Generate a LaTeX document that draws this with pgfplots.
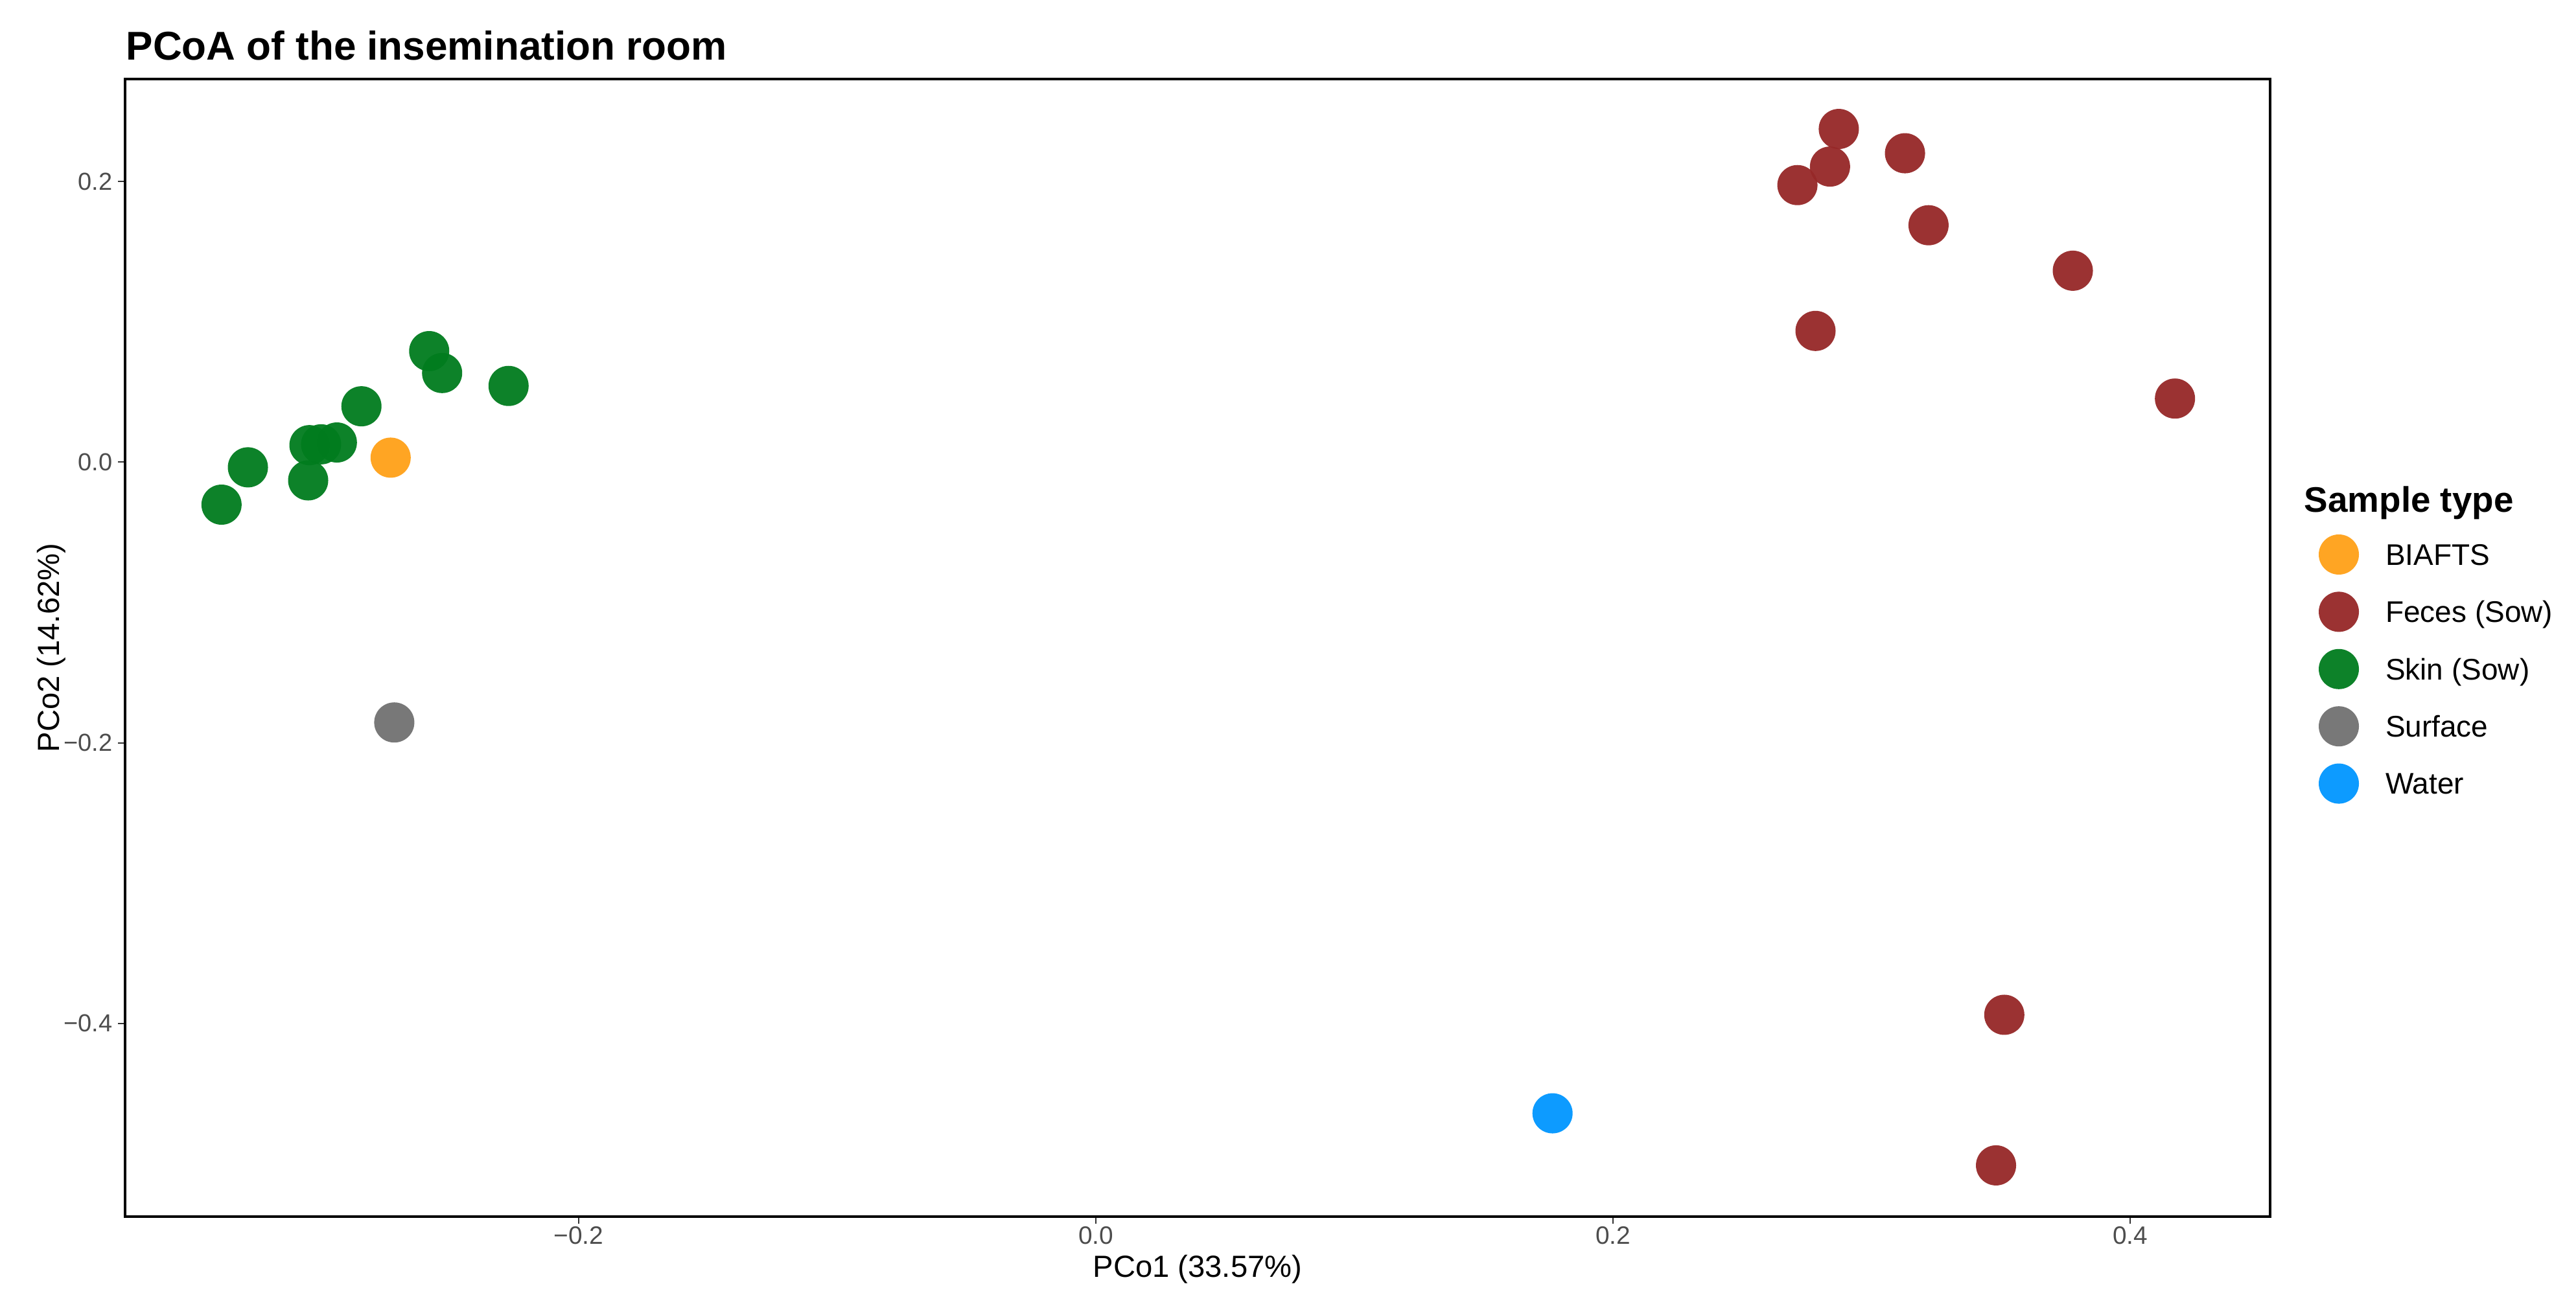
\documentclass[border=0pt]{standalone}
\usepackage{fontspec}
\setmainfont{Liberation Sans}
\usepackage{pgfplots}
\usepackage{pgfplotstable}
\pgfplotsset{compat=1.18}

\definecolor{cBiafts}{RGB}{255,160,23}
\definecolor{cFeces}{RGB}{150,39,39}
\definecolor{cSkin}{RGB}{0,123,29}
\definecolor{cSurface}{RGB}{113,113,113}
\definecolor{cWater}{RGB}{0,150,255}
\definecolor{tickgray}{RGB}{77,77,77}

% PCo1 / PCo2 scores per sample type
\pgfplotstableread{
x y
-0.2727 0.0032
}\biafts
\pgfplotstableread{
x y
0.2873 0.2374
0.2839 0.2106
0.2713 0.1974
0.3129 0.2201
0.3220 0.1688
0.3778 0.1364
0.2783 0.0935
0.4173 0.0453
0.3513 -0.3938
0.3481 -0.5011
}\feces
\pgfplotstableread{
x y
-0.3381 -0.0303
-0.3279 -0.0037
-0.3046 -0.0130
-0.3041 0.0121
-0.2996 0.0127
-0.2935 0.0140
-0.2840 0.0398
-0.2578 0.0791
-0.2528 0.0635
-0.2271 0.0543
}\skin
\pgfplotstableread{
x y
-0.2713 -0.1855
}\surface
\pgfplotstableread{
x y
0.1766 -0.4640
}\water

\pgfplotsset{
  pt/.style={only marks, mark=*, mark size=7.75pt,
    mark options={fill=#1, draw=#1, fill opacity=0.95, draw opacity=0}},
}

\begin{document}
\begin{tikzpicture}
\path[use as bounding box] (0pt,0pt) rectangle (993.75pt,503.75pt);

\begin{axis}[
  at={(48.25pt,34.25pt)}, anchor=south west,
  scale only axis, width=827.5pt, height=439pt,
  xmin=-0.3754, xmax=0.4541, ymin=-0.5376, ymax=0.273,
  axis line style={line width=1.1pt, black},
  tick align=outside, tick pos=left,
  major tick length=2.75pt,
  major tick style={line width=0.45pt, black!80},
  xtick={-0.2,0,0.2,0.4},
  xticklabels={−0.2,0.0,0.2,0.4},
  ytick={-0.4,-0.2,0,0.2},
  yticklabels={−0.4,−0.2,0.0,0.2},
  xticklabel style={font=\fontsize{9.7}{11}\selectfont, text=tickgray, inner sep=0pt, yshift=-1pt},
  yticklabel style={font=\fontsize{9.5}{11}\selectfont, text=tickgray, inner sep=0pt, xshift=-1.9pt},
  every axis x label/.style={at={(axis description cs:0.5,-0.05353)}, anchor=base},
  every axis y label/.style={at={(axis description cs:-0.03051,0.5)}, rotate=90, anchor=base},
  label style={font=\fontsize{11.8}{14}\selectfont},
  xlabel={PCo1 (33.57\%)},
  ylabel={PCo2 (14.62\%)},
  legend style={at={(axis description cs:1.02266,0.59966)}, anchor=north west,
    draw=none, fill=none, inner sep=0pt, outer sep=0pt,
    row sep=6.6pt, column sep=10.25pt,
    font=\fontsize{11.5}{13}\selectfont,
    nodes={inner sep=0pt, text height=8.2pt, text depth=0pt}},
  legend cell align=left,
  legend image code/.code={\draw[#1] plot coordinates {(0pt,0pt)};},
]
\addplot[pt=cBiafts] table {\biafts};
\addplot[pt=cFeces] table {\feces};
\addplot[pt=cSkin] table {\skin};
\addplot[pt=cSurface] table {\surface};
\addplot[pt=cWater] table {\water};
\legend{BIAFTS, Feces (Sow), Skin (Sow), Surface, Water}
\end{axis}

\node[anchor=base west, inner sep=0pt, font=\bfseries\fontsize{15.5}{18}\selectfont] at (48.5pt,480.5pt) {PCoA of the insemination room};
\node[anchor=base west, inner sep=0pt, font=\bfseries\fontsize{13.7}{16}\selectfont] at (888.75pt,306pt) {Sample type};
\end{tikzpicture}
\end{document}
